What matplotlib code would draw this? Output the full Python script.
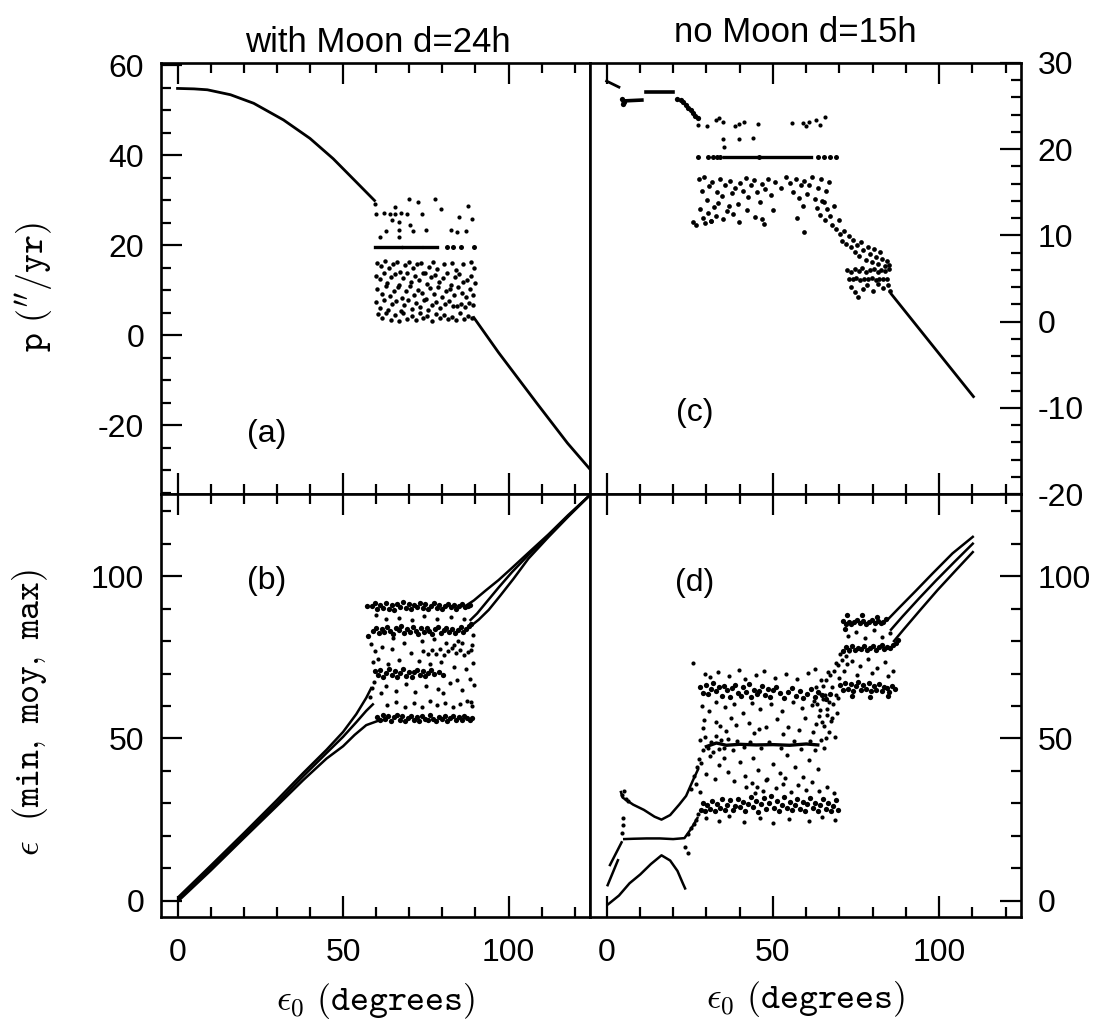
import matplotlib
matplotlib.use('Agg')
import matplotlib.pyplot as plt
from matplotlib.ticker import MultipleLocator

plt.rcParams['font.family'] = ['Liberation Sans', 'DejaVu Sans']
plt.rcParams['mathtext.fontset'] = 'cm'
plt.rcParams['axes.unicode_minus'] = False

# ---------------- panel (a): with Moon, precession ----------------
a_curve_x = [0, 5, 9, 16, 23, 32, 40, 47, 54, 59.5]
a_curve_y = [54.8, 54.7, 54.5, 53.4, 51.5, 47.8, 43.7, 39.2, 34.0, 29.9]
a_tail_x = [89.5, 97, 108.5, 117.8, 124.6]
a_tail_y = [3.9, -3.9, -15.1, -24.0, -29.8]
a_line19 = [(59.5, 67.5), (68.2, 73.5), (74.5, 78.5)]
a_line19_y = 19.6
a_dots19 = [81.4, 83.1, 85.5, 89.5]
a_sparse = [(59.5, 29.2), (65.8, 28.4), (69.9, 30.2), (72.5, 29.6), (77.9, 30.2), (87.8, 28.7),
            (60.0, 27.0), (62.4, 27.1), (64.1, 26.9), (65.8, 27.0), (67.6, 27.1), (69.3, 26.9),
            (73.9, 27.0), (64.7, 25.5), (67.0, 25.1), (88.9, 25.7), (62.9, 23.2), (67.0, 23.3),
            (71.0, 23.2), (75.0, 23.4), (82.6, 23.4), (84.3, 23.0), (87.2, 23.1), (67.0, 21.7),
            (61.2, 21.9), (79.5, 28.0), (85.0, 26.2), (70.3, 24.4)]
a_dense = [(60.2, 16.1), (61.5, 15.3), (62.8, 16.4), (63.9, 14.8), (65.1, 15.9), (66.4, 16.3), (67.2, 14.1),
           (68.6, 15.6), (69.8, 16.2), (71.0, 14.9), (72.3, 15.8), (73.5, 16.0), (74.7, 13.9), (75.9, 15.2),
           (77.2, 16.3), (78.4, 14.6), (80.6, 15.7), (82.9, 16.1), (84.1, 14.4), (86.3, 15.9), (88.7, 16.2),
           (89.6, 14.8),
           (59.8, 13.2), (61.1, 12.4), (62.3, 13.8), (63.4, 11.6), (64.6, 12.9), (65.8, 13.5), (66.9, 11.2),
           (68.0, 12.7), (69.3, 13.9), (70.5, 11.9), (71.7, 13.1), (72.9, 12.2), (74.1, 13.7), (75.4, 11.4),
           (76.6, 12.8), (77.8, 13.4), (79.1, 11.8), (80.2, 12.6), (81.4, 13.9), (82.6, 11.1), (83.8, 12.9),
           (85.0, 13.6), (86.2, 11.7), (87.4, 12.3), (88.6, 13.1), (89.8, 11.5),
           (60.4, 10.3), (61.7, 9.2), (62.9, 10.8), (64.2, 8.6), (65.4, 9.9), (66.6, 10.6), (67.9, 8.3),
           (69.1, 9.7), (70.2, 10.9), (71.5, 8.8), (72.6, 10.1), (73.8, 9.4), (75.0, 8.1), (76.3, 10.4),
           (77.4, 9.1), (78.7, 10.7), (79.9, 8.5), (81.1, 9.8), (82.3, 10.2), (83.5, 8.9), (84.7, 10.6),
           (85.9, 9.3), (87.1, 8.4), (88.2, 10.3), (89.4, 9.0),
           (59.9, 7.4), (61.2, 6.1), (62.5, 7.8), (63.7, 5.6), (64.9, 6.9), (66.1, 7.5), (67.4, 5.3),
           (68.5, 6.7), (69.7, 7.9), (70.9, 5.9), (72.1, 7.1), (73.3, 6.3), (74.5, 7.7), (75.7, 5.5),
           (76.9, 6.6), (78.1, 7.3), (79.4, 6.0), (80.8, 6.8), (82.0, 7.6), (83.2, 6.4), (84.4, 6.5),
           (85.6, 6.9), (86.8, 6.3), (88.0, 7.2), (89.2, 6.6),
           (60.6, 4.6), (61.9, 3.8), (63.1, 5.0), (64.4, 3.4), (65.6, 4.4), (66.8, 3.1), (68.2, 4.8),
           (69.4, 3.6), (70.7, 4.2), (71.9, 3.3), (73.1, 4.9), (74.3, 3.7), (75.5, 4.3), (76.8, 3.2),
           (78.0, 4.7), (79.2, 3.9), (80.4, 4.5), (81.7, 3.5), (82.8, 4.1), (84.0, 3.3), (85.3, 4.8),
           (86.5, 3.6), (87.7, 4.3), (88.9, 3.8)]

# ---------------- panel (b): with Moon, obliquity min/moy/max ----------------
b_max_x = [0.3, 10, 20, 30, 38, 45, 50, 54, 57, 58.5]
b_max_y = [1.2, 10.8, 20.8, 31.0, 39.4, 46.5, 52.0, 57.5, 62.5, 65.5]
b_mid_x = [0.3, 10, 20, 30, 38, 45, 50, 54, 57, 59]
b_mid_y = [0.6, 10.0, 20.0, 30.0, 38.4, 45.5, 50.5, 55.0, 58.5, 60.5]
b_min_x = [0.3, 10, 20, 30, 38, 45, 50, 53.5, 57, 60.5, 63]
b_min_y = [0.0, 9.3, 19.3, 29.2, 37.2, 43.8, 47.6, 51.1, 54.1, 55.4, 55.8]
b_tmax_x = [86.5, 89.5, 93, 97, 101, 106, 112, 118, 124.6]
b_tmax_y = [90.5, 92.5, 95.5, 98.8, 102.5, 107.2, 112.8, 118.8, 125]
b_tmid_x = [88.5, 90.5, 93.5, 97, 101, 106, 112, 118, 124.6]
b_tmid_y = [86.5, 88.5, 92.2, 96.5, 101.2, 106.5, 112.4, 118.5, 125]
b_tmin_x = [88.8, 91, 94, 97.5, 101.5, 106, 112, 118, 124.6]
b_tmin_y = [84.8, 86.6, 89.6, 94.0, 99.2, 105.4, 112.0, 118.3, 125]
b_band90 = [(57.2, 90.8), (58.6, 90.9), (59.6, 91.6), (60.4, 89.8), (61.3, 91.2), (62.1, 90.3), (63.0, 91.8),
            (63.8, 90.0), (64.7, 91.0), (65.5, 89.7), (66.4, 91.5), (67.2, 90.4), (68.1, 91.9), (68.9, 90.1),
            (69.8, 91.3), (70.6, 89.9), (71.5, 91.0), (72.3, 90.6), (73.2, 91.7), (74.0, 90.2), (74.9, 91.4),
            (75.7, 89.8), (76.6, 90.9), (77.4, 91.6), (78.3, 90.3), (79.1, 91.1), (80.0, 89.9), (80.8, 90.8),
            (81.7, 91.5), (82.5, 90.4), (83.4, 91.2), (84.2, 90.0), (85.1, 90.9), (85.9, 91.4), (86.8, 90.5),
            (87.6, 90.7), (88.3, 91.0)]
b_band83 = [(57.6, 81.7), (59.1, 83.0), (60.0, 84.1), (60.8, 82.4), (61.7, 83.8), (62.5, 82.9), (63.4, 84.4),
            (64.2, 83.1), (65.1, 82.2), (65.9, 83.9), (66.8, 83.3), (67.6, 84.6), (68.5, 82.6), (69.3, 83.7),
            (70.2, 82.8), (71.0, 84.2), (71.9, 83.2), (72.7, 82.3), (73.6, 83.9), (74.4, 82.7), (75.3, 84.0),
            (76.1, 83.1), (77.0, 82.2), (77.8, 83.6), (78.7, 84.3), (79.5, 82.5), (80.4, 83.4), (81.2, 84.1),
            (82.1, 82.8), (82.9, 83.7), (83.8, 82.4), (84.6, 83.5), (85.5, 84.2), (86.3, 82.9), (87.2, 83.6),
            (88.0, 84.6), (88.8, 85.3)]
b_band76 = [(74.3, 76.8), (75.6, 75.9), (76.8, 77.2), (78.0, 76.1), (79.3, 77.5), (80.5, 75.7), (81.7, 76.9),
            (82.9, 77.8), (84.1, 76.3), (85.3, 77.1), (86.5, 75.8), (87.7, 76.6), (88.6, 77.3), (83.5, 78.9),
            (86.0, 79.4)]
b_band70 = [(59.6, 70.8), (60.5, 69.4), (61.3, 71.2), (62.2, 69.0), (63.0, 70.3), (63.9, 71.5), (64.7, 69.6),
            (65.6, 70.9), (66.4, 68.8), (67.3, 70.1), (68.1, 71.3), (69.0, 69.3), (69.8, 70.6), (70.7, 68.9),
            (71.5, 70.4), (72.4, 71.1), (73.2, 69.5), (74.1, 70.7), (74.9, 69.2), (75.8, 70.2), (76.6, 71.0),
            (77.5, 69.7), (78.9, 70.5), (80.2, 69.4)]
b_band60 = [(63.2, 60.4), (65.9, 61.3), (68.7, 59.8), (71.4, 60.9), (73.8, 59.6), (76.2, 61.5), (78.5, 60.2),
            (80.9, 61.0), (83.1, 59.7), (85.4, 60.6), (87.3, 61.6), (88.9, 59.9), (88.5, 61.2)]
b_band56 = [(60.3, 56.7), (61.1, 55.6), (62.0, 57.1), (62.8, 55.9), (63.7, 56.8), (64.5, 55.4), (65.4, 56.5),
            (66.2, 57.2), (67.1, 55.7), (67.9, 56.9), (68.8, 55.5), (69.6, 56.4), (70.5, 57.0), (71.3, 55.8),
            (72.2, 56.6), (73.0, 55.3), (73.9, 56.9), (74.7, 56.1), (75.6, 55.6), (76.4, 57.1), (77.3, 56.0),
            (78.1, 55.4), (79.0, 56.7), (79.8, 55.9), (80.7, 56.8), (81.5, 55.5), (82.4, 56.3), (83.2, 57.0),
            (84.1, 55.7), (84.9, 56.5), (85.8, 55.8), (86.6, 56.9), (87.5, 56.2), (88.3, 55.6), (89.0, 56.4)]
b_sparse = [(58.2, 62.8), (58.7, 65.5), (59.3, 67.4), (58.9, 73.6), (59.5, 76.8), (58.4, 79.2), (60.7, 74.4),
            (61.8, 78.1), (62.9, 66.2), (63.5, 73.0), (64.8, 77.6), (66.0, 64.7), (66.9, 74.2), (68.3, 79.5),
            (69.1, 66.9), (70.4, 76.3), (71.6, 64.2), (72.8, 73.8), (73.7, 79.9), (75.1, 66.1), (76.3, 72.9),
            (77.6, 80.6), (78.8, 65.3), (79.7, 73.4), (81.0, 79.3), (82.3, 67.2), (83.6, 72.1), (84.8, 80.1),
            (85.9, 64.9), (87.1, 71.5), (88.2, 68.3), (89.3, 73.2), (86.4, 86.8), (82.6, 87.4), (78.4, 86.9),
            (74.6, 87.6), (70.9, 86.5), (67.0, 87.2), (63.1, 86.7), (59.8, 87.9), (61.4, 63.9), (65.2, 80.8),
            (80.2, 64.1), (84.4, 68.0), (88.9, 78.9), (89.6, 66.5), (89.4, 81.8)]

# ---------------- panel (c): no Moon, precession ----------------
c_seg1_x = [0.0, 3.7]
c_seg1_y = [27.9, 27.2]
c_seg2_x = [5.0, 10.6]
c_seg2_y = [25.6, 25.7]
c_seg3_x = [11.7, 20.1]
c_seg3_y = [26.6, 26.6]
c_desc = [(4.6, 25.8), (4.9, 25.3), (5.3, 25.5), (21.2, 25.8), (22.3, 25.7), (23.1, 25.5), (23.9, 25.1),
          (24.6, 24.8), (25.4, 24.6), (26.0, 24.2), (26.5, 23.8), (27.4, 23.6)]
c_line19 = [(35.2, 45.0), (46.8, 61.5)]
c_line19_y = 19.1
c_dots19 = [27.6, 30.5, 32.0, 33.2, 34.0, 45.8, 63.5, 65.3, 67.2, 69.0]
c_sparse = [(27.6, 22.8), (30.2, 22.7), (32.9, 23.4), (33.7, 23.6), (35.0, 23.2), (38.7, 22.7), (39.8, 22.9),
            (41.4, 23.2), (45.6, 22.9), (55.7, 23.0), (58.9, 23.0), (60.0, 22.7), (61.0, 23.2), (63.1, 23.4),
            (64.2, 22.8), (65.7, 23.7), (35.0, 21.2), (39.8, 21.2), (44.0, 21.3), (35.2, 20.2)]
c_dense = [(27.8, 16.5), (28.6, 15.2), (29.3, 16.8), (30.1, 14.1), (30.9, 15.7), (31.6, 16.2), (32.4, 13.3),
           (33.2, 15.0), (34.0, 16.6), (34.7, 14.6), (35.5, 15.9), (36.3, 12.8), (37.0, 16.3), (37.8, 14.9),
           (38.6, 15.5), (39.4, 13.7), (40.2, 16.1), (41.0, 15.2), (41.8, 16.7), (42.6, 14.4), (43.5, 15.8),
           (44.3, 16.4), (45.1, 15.0), (46.0, 13.9), (46.8, 16.0), (47.7, 15.4), (48.5, 16.6), (49.4, 14.7),
           (50.6, 16.2), (52.3, 15.5), (53.9, 16.8), (55.2, 16.1), (56.0, 15.0), (56.9, 16.5), (57.7, 14.3),
           (58.5, 15.8), (59.4, 16.3), (60.2, 14.8), (61.0, 15.9), (61.9, 16.8), (62.7, 14.2), (63.6, 15.5),
           (64.4, 16.6), (65.3, 13.9), (66.1, 15.1), (67.0, 16.2),
           (28.2, 13.1), (28.9, 12.0), (29.7, 11.4), (30.6, 12.6), (31.4, 11.7), (32.8, 12.2), (33.6, 13.8),
           (34.9, 11.9), (36.7, 13.4), (38.1, 12.5), (39.9, 11.6), (42.2, 12.9), (44.7, 12.1), (47.2, 11.3),
           (50.0, 13.0), (57.2, 12.0), (59.0, 13.4), (27.0, 11.2), (26.0, 11.5), (31.3, 11.7), (46.7, 11.9),
           (59.4, 10.4),
           (63.4, 13.2), (64.1, 12.4), (64.9, 14.0), (65.6, 11.8), (66.4, 13.1), (67.2, 12.3), (67.9, 11.2),
           (68.5, 13.4), (69.1, 10.7), (69.8, 11.8), (70.3, 10.2), (70.9, 9.4), (71.5, 10.5), (72.1, 9.0),
           (72.8, 9.9), (73.4, 8.6), (74.0, 9.5), (74.6, 8.1), (75.3, 8.9), (75.9, 7.6), (76.6, 9.2),
           (77.2, 8.3), (77.9, 7.2), (78.5, 8.7), (79.1, 7.8), (79.8, 6.9), (80.4, 8.4), (81.0, 7.5),
           (81.7, 6.7), (82.3, 8.1), (82.9, 7.3), (83.6, 6.5), (84.2, 7.0), (84.8, 6.6),
           (72.4, 6.0), (73.5, 5.8), (74.6, 6.1), (75.8, 5.9), (76.9, 6.2), (78.0, 5.8), (79.2, 6.0),
           (80.3, 6.1), (81.5, 5.7), (82.6, 6.0), (83.8, 5.9), (84.9, 6.1),
           (72.9, 5.0), (74.0, 4.9), (75.1, 5.1), (76.3, 4.8), (77.4, 5.0), (78.6, 4.9), (79.7, 5.1),
           (80.9, 4.8), (82.0, 5.0), (83.2, 4.9), (84.4, 5.0),
           (73.6, 4.0), (74.8, 3.4), (75.7, 2.8), (77.0, 3.8), (78.3, 4.2), (80.1, 3.6), (81.6, 4.4),
           (83.0, 3.9), (84.6, 4.3), (85.3, 3.5)]
c_tail_x = [85.6, 110.3]
c_tail_y = [3.2, -8.7]

# ---------------- panel (d): no Moon, obliquity min/moy/max ----------------
d_up_x = [4.3, 4.8, 8, 11.2, 14.4, 16.5, 19.1, 21.8, 23.9, 26.0, 27.5]
d_up_y = [33.5, 31.8, 29.6, 28.0, 25.9, 25.0, 26.4, 29.6, 32.3, 37.2, 40.5]
d_mid_x = [5.3, 8, 12, 16, 20, 23.4, 25, 26, 27.3]
d_mid_y = [19.0, 19.1, 19.2, 19.2, 19.0, 19.3, 21.6, 23.2, 25.5]
d_ms1_x = [0.3, 3.4]
d_ms1_y = [4.8, 12.5]
d_ms2_x = [1.0, 4.5]
d_ms2_y = [11.0, 18.0]
d_low_x = [0.3, 0.8, 3.7, 6.9, 10.1, 13.3, 16.5, 19.1, 21.3, 22.9, 23.6]
d_low_y = [-1.2, -0.8, 1.6, 5.4, 8.1, 11.3, 14.0, 12.4, 9.2, 5.4, 3.8]
d_tmax_x = [84.6, 88, 93, 98, 104, 110.1]
d_tmax_y = [86.7, 90.3, 95.5, 100.8, 107.0, 112.1]
d_tmid_x = [85.5, 89, 94, 99, 104.5, 110.1]
d_tmid_y = [83.5, 87.6, 93.2, 98.6, 104.3, 110.0]
d_tmin_x = [86.4, 89.5, 94.5, 99.5, 105, 110.1]
d_tmin_y = [80.0, 83.8, 89.8, 95.7, 101.8, 107.4]
d_left_pts = [(4.6, 21.0), (4.8, 23.2), (4.9, 25.5), (4.5, 32.6), (5.2, 33.9), (5.8, 31.2), (6.4, 30.6),
              (23.6, 16.5), (24.6, 14.8), (24.5, 20.5), (25.3, 22.3), (26.2, 23.5), (27.0, 25.0),
              (27.6, 26.8), (25.5, 34.5), (26.4, 38.5), (27.2, 41.2), (26.9, 36.0), (27.8, 43.6),
              (28.0, 33.4), (26.1, 73.3)]
d_band65 = [(28.2, 65.9), (29.0, 64.1), (29.9, 66.6), (30.6, 63.8), (31.5, 65.2), (32.1, 67.0), (33.0, 64.5),
            (33.8, 65.8), (34.7, 63.2), (35.3, 66.1), (36.2, 64.9), (37.1, 62.8), (37.8, 65.5), (38.6, 66.4),
            (39.5, 64.0), (40.3, 63.1), (41.0, 65.7), (41.9, 64.4), (42.7, 66.8), (43.4, 62.9), (44.3, 65.0),
            (45.1, 63.7), (45.9, 64.6), (46.8, 66.2), (47.5, 63.4), (48.4, 65.3), (49.2, 62.7), (50.1, 64.8),
            (51.0, 66.0), (52.2, 63.9), (53.4, 62.6), (54.5, 64.3), (55.7, 65.4), (56.8, 63.0), (58.0, 64.7),
            (59.1, 62.4), (60.3, 63.8), (61.4, 65.1), (62.6, 62.9), (63.7, 64.2), (64.9, 63.5), (66.0, 62.1),
            (67.2, 63.6)]
d_sparse_up = [(29.5, 69.8), (31.2, 68.9), (33.5, 70.4), (36.8, 69.2), (39.7, 71.0), (41.5, 68.4), (44.9, 69.6),
               (47.3, 70.7), (50.6, 68.7), (53.8, 69.9), (57.2, 68.3), (60.5, 70.2), (62.8, 71.5), (28.6, 60.1),
               (30.8, 58.4), (32.9, 61.3), (35.6, 59.6), (38.4, 60.7), (40.9, 57.9), (43.6, 61.0), (46.2, 59.2),
               (49.5, 60.5), (52.7, 58.6), (55.9, 61.1), (58.8, 59.4), (61.9, 60.3), (64.3, 58.8), (29.2, 55.6),
               (34.1, 53.9), (37.5, 56.4), (42.8, 54.7), (45.7, 52.8), (51.3, 55.9), (54.6, 53.5), (59.6, 56.2),
               (63.1, 54.4), (66.2, 57.3)]
d_line48_x = [30, 33, 36, 40, 45, 50, 55, 60, 63.5]
d_line48_y = [47.5, 48.6, 47.9, 48.2, 48.0, 48.1, 47.9, 48.3, 48.0]
d_band48 = [(28.1, 49.6), (28.9, 46.4), (29.6, 50.3), (30.4, 47.1), (31.3, 49.0), (32.0, 45.8), (32.8, 50.8),
            (33.7, 46.9), (34.5, 49.4), (35.4, 47.2), (36.6, 49.9), (38.0, 46.5), (39.2, 49.1), (41.3, 47.3),
            (43.0, 48.9), (46.4, 47.2), (48.8, 49.0), (52.5, 47.1), (56.4, 49.2), (58.3, 46.8), (61.2, 49.3),
            (62.7, 46.4), (64.4, 49.5), (65.3, 47.0)]
d_sparse_mid = [(28.4, 42.3), (29.8, 39.1), (31.0, 44.6), (32.6, 37.5), (33.9, 41.8), (35.2, 43.9), (36.5, 39.8),
                (38.3, 36.9), (40.1, 42.7), (41.7, 38.5), (43.9, 44.1), (45.4, 40.2), (47.8, 37.3), (49.9, 42.0),
                (52.1, 39.4), (54.3, 44.8), (56.7, 41.2), (58.9, 38.0), (61.0, 43.3), (63.5, 40.6), (29.1, 53.2),
                (33.0, 55.1), (36.0, 52.2), (39.0, 54.0), (44.2, 51.6), (48.0, 53.6), (53.0, 51.4), (57.8, 52.7),
                (62.2, 51.9), (65.5, 53.8), (67.4, 55.5), (68.6, 50.6), (69.2, 57.9), (67.0, 61.2), (68.9, 63.5),
                (66.8, 52.0), (65.9, 50.1), (63.9, 57.0), (64.8, 55.2), (66.4, 59.0), (67.7, 56.3), (68.2, 60.7),
                (69.5, 62.4), (65.1, 62.0), (63.2, 60.6)]
d_band29 = [(28.3, 28.1), (28.9, 30.2), (29.6, 27.5), (30.3, 29.6), (31.0, 28.4), (31.8, 30.7), (32.5, 27.8),
            (33.3, 29.9), (34.0, 28.6), (34.8, 31.2), (35.6, 28.0), (36.3, 29.5), (37.1, 30.9), (37.9, 27.9),
            (38.6, 29.2), (39.4, 31.5), (40.2, 28.8), (41.0, 30.4), (41.7, 27.6), (42.5, 29.7), (43.3, 32.0),
            (44.1, 28.9), (44.8, 30.6), (45.6, 27.4), (46.4, 29.9), (47.2, 31.7), (47.9, 28.3), (48.7, 30.1),
            (49.5, 32.3), (50.3, 28.7), (51.1, 30.8), (51.8, 27.7), (52.6, 29.6), (53.4, 31.9), (54.2, 28.5),
            (55.0, 30.3), (55.8, 27.9), (56.5, 29.4), (57.3, 31.3), (58.1, 28.2), (58.9, 30.5), (59.7, 27.6),
            (60.4, 29.8), (61.2, 31.6), (62.0, 28.6), (62.8, 30.2), (63.6, 27.8), (64.3, 29.5), (65.1, 31.4),
            (65.9, 28.4), (66.7, 30.0), (67.5, 27.5), (68.2, 29.3), (69.0, 30.9), (69.7, 28.1)]
d_near29 = [(42.0, 34.9), (43.8, 36.2), (45.3, 35.1), (46.9, 33.8), (48.2, 37.4), (50.8, 34.6), (52.9, 36.0),
            (55.4, 33.5), (57.6, 35.7), (59.9, 34.2), (61.7, 36.6), (63.9, 33.9), (66.3, 35.0), (68.4, 33.2),
            (44.6, 33.1), (53.7, 37.8),
            (30.0, 25.4), (33.7, 24.6), (36.9, 26.0), (41.4, 24.2), (46.0, 25.6), (50.0, 23.9), (54.8, 25.3),
            (60.8, 24.5), (64.7, 25.8), (68.8, 24.9)]
d_diag = [(62.5, 61.5), (63.8, 63.9), (65.0, 66.2), (66.1, 67.9), (67.3, 69.6), (68.4, 70.8), (69.6, 72.5),
          (70.7, 74.1), (71.9, 75.4), (72.8, 76.9), (64.4, 68.0), (66.7, 70.5), (68.9, 73.2), (70.1, 76.0),
          (63.0, 65.8), (65.6, 63.4), (67.9, 66.0), (69.9, 68.6), (71.3, 70.9), (72.4, 72.8)]
d_band65r = [(70.2, 66.4), (71.0, 64.8), (71.8, 67.0), (72.6, 65.3), (73.4, 66.7), (74.1, 64.5), (74.9, 66.1),
             (75.7, 67.3), (76.5, 64.9), (77.2, 66.5), (78.0, 65.2), (78.8, 67.1), (79.6, 64.6), (80.4, 66.3),
             (81.1, 65.0), (81.9, 66.9), (82.7, 64.7), (83.5, 66.0), (84.2, 65.4), (85.0, 64.2), (85.8, 66.2),
             (86.6, 65.1), (73.8, 63.2), (79.3, 62.9), (84.6, 63.1)]
d_band78 = [(71.2, 77.0), (72.1, 78.3), (73.0, 77.4), (73.9, 78.6), (74.8, 77.1), (75.6, 78.0), (76.5, 77.5),
            (77.4, 78.4), (78.3, 77.2), (79.1, 77.9), (80.0, 78.5), (80.9, 77.3), (81.8, 78.1), (82.7, 78.7),
            (83.5, 77.6), (84.4, 78.3), (85.3, 77.8), (86.2, 78.9), (87.0, 79.5), (87.6, 80.2)]
d_band86 = [(71.0, 86.3), (71.9, 85.4), (72.8, 86.0), (73.6, 85.2), (74.5, 85.9), (75.4, 86.4), (76.2, 85.5),
            (77.1, 86.1), (78.0, 85.3), (78.9, 85.8), (79.7, 86.6), (80.6, 85.6), (81.5, 86.2), (82.4, 85.7),
            (83.2, 86.0), (84.0, 86.8), (72.3, 87.9), (76.9, 88.0), (81.2, 87.4), (71.6, 83.8)]
d_sparse_r = [(72.5, 81.6), (74.9, 82.9), (77.8, 80.8), (80.3, 83.4), (82.9, 81.2), (85.1, 82.6), (73.7, 73.9),
              (76.1, 72.4), (78.6, 74.6), (81.4, 71.8), (83.8, 73.5), (86.0, 70.9), (75.3, 69.6), (79.9, 70.3),
              (84.7, 69.1)]

# ---------------- figure ----------------
W, H = 1101, 1030
fig = plt.figure(figsize=(W / 100, H / 100), dpi=100)

x_left, x_mid, x_right = 161 / W, 590 / W, 1021 / W
y_top, y_mid, y_bot = 1 - 63 / H, 1 - 494 / H, 1 - 917 / H

ax_a = fig.add_axes([x_left, y_mid, x_mid - x_left, y_top - y_mid])
ax_c = fig.add_axes([x_mid, y_mid, x_right - x_mid, y_top - y_mid])
ax_b = fig.add_axes([x_left, y_bot, x_mid - x_left, y_mid - y_bot])
ax_d = fig.add_axes([x_mid, y_bot, x_right - x_mid, y_mid - y_bot])

LW = 2.0
MS = 3.0      # sparse points
MS_BAND = 3.8  # dense chaotic bands
TICK_FS = 23


def dots(ax, pts, ms=MS):
    ax.plot([p[0] for p in pts], [p[1] for p in pts], 'o', color='k', ms=ms, mew=0)


def style(ax, ymaj, ymin, side, xlabels):
    ax.set_xlim(-5, 124.6)
    ax.xaxis.set_major_locator(MultipleLocator(50))
    ax.xaxis.set_minor_locator(MultipleLocator(10))
    ax.yaxis.set_major_locator(MultipleLocator(ymaj))
    ax.yaxis.set_minor_locator(MultipleLocator(ymin))
    ax.tick_params(which='both', direction='in', top=True, bottom=True,
                   left=(side == 'left'), right=(side == 'right'),
                   labelleft=(side == 'left'), labelright=(side == 'right'),
                   labelbottom=xlabels, width=1.6, labelsize=TICK_FS)
    ax.tick_params(which='major', length=15)
    ax.tick_params(which='minor', length=7.5)
    ax.tick_params(axis='x', pad=15)
    ax.tick_params(axis='y', pad=12)
    for s in ax.spines.values():
        s.set_linewidth(1.9)


# (a)
ax_a.plot(a_curve_x, a_curve_y, color='k', lw=LW)
ax_a.plot(a_tail_x, a_tail_y, color='k', lw=LW)
for x0, x1 in a_line19:
    ax_a.plot([x0, x1], [a_line19_y, a_line19_y], color='k', lw=2.4)
dots(ax_a, [(x, a_line19_y) for x in a_dots19], ms=3.6)
dots(ax_a, a_sparse)
dots(ax_a, a_dense, ms=3.2)
ax_a.set_ylim(-35.3, 60.45)
style(ax_a, 20, 5, 'left', False)
ax_a.text(27, -22, '(a)', fontsize=TICK_FS, ha='center', va='center')

# (c)
ax_c.plot(c_seg1_x, c_seg1_y, color='k', lw=LW)
ax_c.plot(c_seg2_x, c_seg2_y, color='k', lw=2.6)
ax_c.plot(c_seg3_x, c_seg3_y, color='k', lw=2.6)
dots(ax_c, c_desc, ms=3.8)
for x0, x1 in c_line19:
    ax_c.plot([x0, x1], [c_line19_y, c_line19_y], color='k', lw=2.4)
dots(ax_c, [(x, c_line19_y) for x in c_dots19], ms=3.6)
dots(ax_c, c_sparse)
dots(ax_c, c_dense, ms=3.4)
ax_c.plot(c_tail_x, c_tail_y, color='k', lw=LW)
ax_c.set_ylim(-20, 30)
style(ax_c, 10, 2, 'right', False)
ax_c.text(26.5, -10.6, '(c)', fontsize=TICK_FS, ha='center', va='center')

# (b)
for xs, ys in [(b_max_x, b_max_y), (b_mid_x, b_mid_y), (b_min_x, b_min_y),
               (b_tmax_x, b_tmax_y), (b_tmid_x, b_tmid_y), (b_tmin_x, b_tmin_y)]:
    ax_b.plot(xs, ys, color='k', lw=1.8)
for band in [b_band90, b_band83, b_band70, b_band56]:
    dots(ax_b, band, ms=MS_BAND)
for band in [b_band76, b_band60, b_sparse]:
    dots(ax_b, band)
ax_b.set_ylim(-5, 125.3)
style(ax_b, 50, 10, 'left', True)
ax_b.text(27, 98.5, '(b)', fontsize=TICK_FS, ha='center', va='center')

# (d)
for xs, ys in [(d_up_x, d_up_y), (d_mid_x, d_mid_y), (d_ms1_x, d_ms1_y), (d_ms2_x, d_ms2_y),
               (d_low_x, d_low_y), (d_tmax_x, d_tmax_y), (d_tmid_x, d_tmid_y), (d_tmin_x, d_tmin_y)]:
    ax_d.plot(xs, ys, color='k', lw=1.8)
ax_d.plot(d_line48_x, d_line48_y, color='k', lw=2.4)
for band in [d_band65, d_band29, d_band65r, d_band78, d_band86]:
    dots(ax_d, band, ms=MS_BAND)
for band in [d_left_pts, d_sparse_up, d_band48, d_sparse_mid, d_near29, d_diag, d_sparse_r]:
    dots(ax_d, band)
ax_d.set_ylim(-5, 125.3)
style(ax_d, 50, 10, 'right', True)
ax_d.text(26.5, 98, '(d)', fontsize=TICK_FS, ha='center', va='center')

# titles and axis labels
fig.text(378 / W, 1 - 52 / H, 'with Moon d=24h', ha='center', va='baseline', fontsize=25)
fig.text(795 / W, 1 - 42 / H, 'no Moon d=15h', ha='center', va='baseline', fontsize=25)
fig.text(34 / W, 1 - 287 / H, r"$\mathtt{p\ (}^{\prime\prime}\mathtt{/yr)}$",
         rotation=90, ha='center', va='center', fontsize=26)
fig.text(30 / W, 1 - 713 / H, r"$\epsilon\ \ \mathtt{(min,\ moy,\ max)}$",
         rotation=90, ha='center', va='center', fontsize=26)
fig.text(376 / W, 1 - 1001 / H, r"$\epsilon_0\ \mathtt{(degrees)}$",
         ha='center', va='center', fontsize=26)
fig.text(806 / W, 1 - 999 / H, r"$\epsilon_0\ \mathtt{(degrees)}$",
         ha='center', va='center', fontsize=26)

fig.savefig('out.png', dpi=100)
